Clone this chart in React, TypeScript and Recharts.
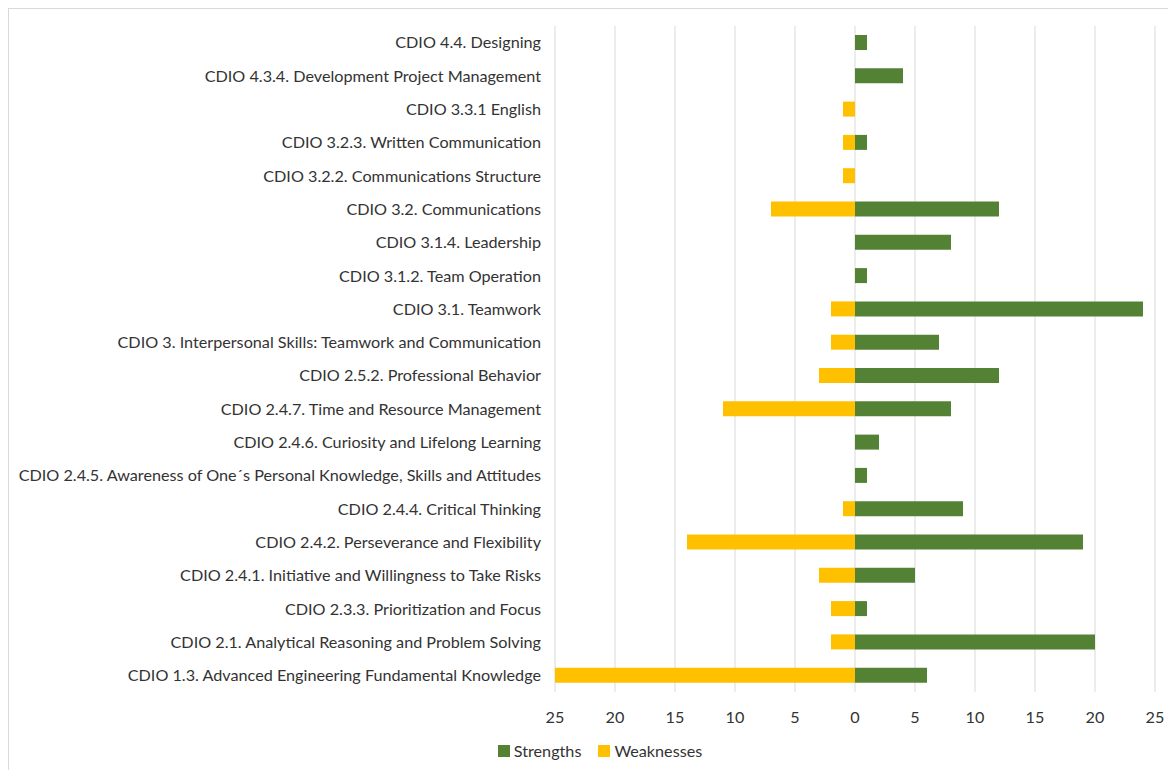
import { Bar, BarChart, CartesianGrid, Legend, XAxis, YAxis } from "recharts";

const categories = [
  "CDIO 4.4. Designing",
  "CDIO 4.3.4. Development Project Management",
  "CDIO 3.3.1 English",
  "CDIO 3.2.3. Written Communication",
  "CDIO 3.2.2. Communications Structure",
  "CDIO 3.2. Communications",
  "CDIO 3.1.4. Leadership",
  "CDIO 3.1.2. Team Operation",
  "CDIO 3.1. Teamwork",
  "CDIO 3. Interpersonal Skills: Teamwork and Communication",
  "CDIO 2.5.2. Professional Behavior",
  "CDIO 2.4.7. Time and Resource Management",
  "CDIO 2.4.6. Curiosity and Lifelong Learning",
  "CDIO 2.4.5. Awareness of One´s Personal Knowledge, Skills and Attitudes",
  "CDIO 2.4.4. Critical Thinking",
  "CDIO 2.4.2. Perseverance and Flexibility",
  "CDIO 2.4.1. Initiative and Willingness to Take Risks",
  "CDIO 2.3.3. Prioritization and Focus",
  "CDIO 2.1. Analytical Reasoning and Problem Solving",
  "CDIO 1.3. Advanced Engineering Fundamental Knowledge",
];
const strengths = [1, 4, 0, 1, 0, 12, 8, 1, 24, 7, 12, 8, 2, 1, 9, 19, 5, 1, 20, 6];
const weaknesses = [0, 0, 1, 1, 1, 7, 0, 0, 2, 2, 3, 11, 0, 0, 1, 14, 3, 2, 2, 25];
const xTicks = [-25, -20, -15, -10, -5, 0, 5, 10, 15, 20, 25];

const data = categories.map((name, i) => ({
  name,
  Strengths: strengths[i],
  Weaknesses: -weaknesses[i],
}));

const FONT = "Lato, 'Open Sans', sans-serif";
const TEXT = "#333333";
const FS = 16.2;

function LegendBox() {
  const items = [
    { label: "Strengths", color: "#548235" },
    { label: "Weaknesses", color: "#FFC000" },
  ];
  return (
    <div style={{ display: "flex", justifyContent: "center", gap: 17, fontFamily: FONT, fontSize: FS, color: TEXT, lineHeight: "20px" }}>
      {items.map((it) => (
        <div key={it.label} style={{ display: "flex", alignItems: "center", gap: 4 }}>
          <span style={{ width: 12, height: 12, background: it.color, display: "inline-block" }} />
          <span>{it.label}</span>
        </div>
      ))}
    </div>
  );
}

export default function App() {
  return (
    <div style={{ width: 1180, height: 780, border: "1px solid #d9d9d9", boxSizing: "border-box", overflow: "hidden" }}>
      <BarChart
        width={1168}
        height={770}
        data={data}
        layout="vertical"
        stackOffset="sign"
        barSize={15}
        margin={{ top: 17, right: 22, bottom: 37, left: 0 }}
      >
        <CartesianGrid horizontal={false} stroke="#d9d9d9" />
        <XAxis
          type="number"
          domain={[-25, 25]}
          ticks={xTicks}
          tickFormatter={(v: number) => String(Math.abs(v))}
          axisLine={false}
          tickLine={false}
          tickSize={0}
          tickMargin={19}
          tick={{ fill: TEXT, fontSize: FS, fontFamily: FONT }}
        />
        <YAxis
          type="category"
          dataKey="name"
          width={546}
          axisLine={false}
          tickLine={false}
          tickSize={0}
          tickMargin={14}
          interval={0}
          tick={{ fill: TEXT, fontSize: FS, fontFamily: FONT }}
        />
        <Legend
          content={() => <LegendBox />}
          wrapperStyle={{ left: 91, width: 1000, bottom: 18 }}
        />
        <Bar dataKey="Strengths" stackId="a" fill="#548235" isAnimationActive={false} />
        <Bar dataKey="Weaknesses" stackId="a" fill="#FFC000" isAnimationActive={false} />
      </BarChart>
    </div>
  );
}
